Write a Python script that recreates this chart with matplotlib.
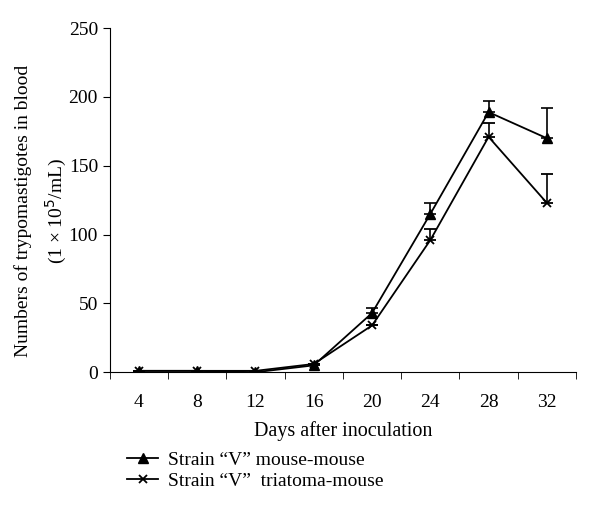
import matplotlib.pyplot as plt
from matplotlib.lines import Line2D
import numpy as np

plt.rcParams['font.family'] = ['Liberation Serif', 'DejaVu Serif']

days = [4, 8, 12, 16, 20, 24, 28, 32]
mouse = [1, 1, 0, 5, 43, 115, 189, 170]
mouse_err = [0, 0, 0, 0, 4, 8, 8, 22]
triatoma = [1, 1, 1, 6, 34, 96, 171, 123]
triatoma_err = [0, 0, 0, 0, 0, 8, 10, 21]
labels = ['Strain \u201cV\u201d mouse-mouse', 'Strain \u201cV\u201d  triatoma-mouse']

fig = plt.figure(figsize=(6, 5.12), dpi=100)
ax = fig.add_axes([0.183, 0.273, 0.777, 0.672])

x = np.arange(len(days))
zeros = [0] * len(days)
ax.errorbar(x, mouse, yerr=[zeros, mouse_err], color='black', marker='^', ms=7,
            lw=1.3, capsize=4, elinewidth=1.2, capthick=1.2)
ax.errorbar(x, triatoma, yerr=[zeros, triatoma_err], color='black', marker='x', ms=6,
            mew=1.3, lw=1.3, capsize=4, elinewidth=1.2, capthick=1.2)

ax.set_xlim(-0.5, len(days) - 0.5)
ax.set_ylim(0, 250)
ax.set_yticks(range(0, 251, 50))
ax.set_xticks(x)
ax.set_xticklabels([str(d) for d in days])
ax.set_xticks(np.arange(-0.5, len(days), 1), minor=True)
ax.tick_params(axis='x', which='major', length=0, labelsize=14, pad=16)
ax.tick_params(axis='x', which='minor', length=5, direction='out')
ax.tick_params(axis='y', length=5, direction='out', labelsize=14)
for s in ['top', 'right']:
    ax.spines[s].set_visible(False)

ax.set_xlabel('Days after inoculation', fontsize=14.5, labelpad=7)
ax.set_ylabel('Numbers of trypomastigotes in blood\n(1 × 10$^5$/mL)', fontsize=14,
              linespacing=1.6)
ax.yaxis.set_label_coords(-0.088, 0.47)

handles = [Line2D([], [], color='black', marker='^', ms=7, lw=1.3),
           Line2D([], [], color='black', marker='x', ms=6, mew=1.3, lw=1.3)]
fig.legend(handles, labels, loc='upper left', bbox_to_anchor=(127 / 600, 1 - 451 / 512),
           frameon=False, fontsize=14, handlelength=1.6, handletextpad=0.5,
           labelspacing=0.2, borderpad=0, borderaxespad=0)

fig.savefig('out.png', dpi=100)
